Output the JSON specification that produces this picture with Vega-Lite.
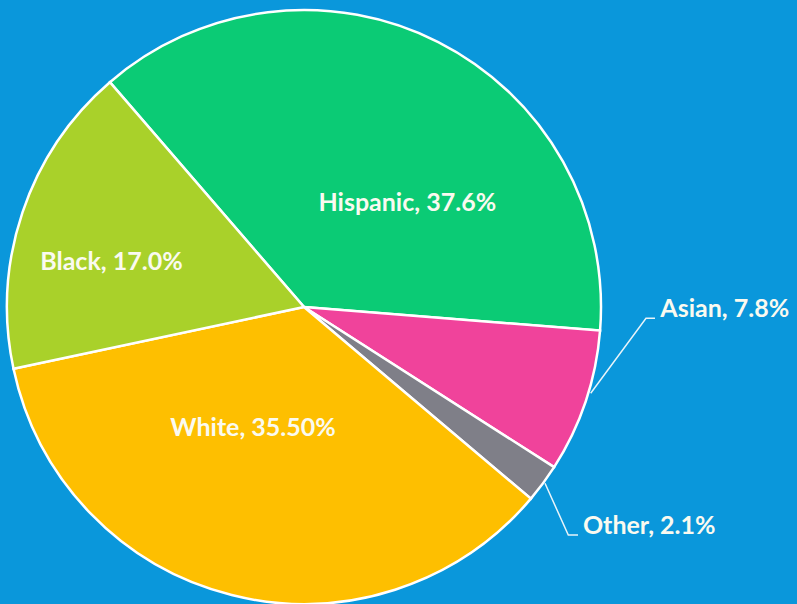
{
  "$schema": "https://vega.github.io/schema/vega-lite/v6.json",
  "width": 608,
  "height": 594,
  "autosize": {"type": "none"},
  "padding": {"left": 0, "top": 10, "right": 189, "bottom": 0},
  "background": "#0A97DB",
  "config": {"view": {"stroke": null}},
  "layer": [
    {
      "data": {"values": [
        {"category": "Hispanic", "value": 37.6, "label": "Hispanic, 37.6%", "order": 1},
        {"category": "Asian", "value": 7.8, "label": "Asian, 7.8%", "order": 2},
        {"category": "Other", "value": 2.1, "label": "Other, 2.1%", "order": 3},
        {"category": "White", "value": 35.5, "label": "White, 35.50%", "order": 4},
        {"category": "Black", "value": 17.0, "label": "Black, 17.0%", "order": 5}
      ]},
      "encoding": {
        "theta": {"field": "value", "type": "quantitative", "stack": true, "scale": {"range": [5.571, 11.854]}},
        "order": {"field": "order", "type": "quantitative", "sort": "ascending"}
      },
      "layer": [
        {
          "mark": {"type": "arc", "outerRadius": 297, "stroke": "white", "strokeWidth": 2.5},
          "encoding": {
            "color": {"field": "category", "type": "nominal", "legend": null,
              "scale": {"domain": ["Hispanic", "Asian", "Other", "White", "Black"],
                        "range": ["#0BCB75", "#F0439B", "#7F7F88", "#FEBF00", "#A9D12A"]}}
          }
        },
        {
          "mark": {"type": "text", "radius": 140, "dx": 40, "dy": 21, "font": "Lato", "fontWeight": "bold", "fontSize": 25, "fill": "#FAFAF0", "align": "center", "baseline": "middle"},
          "encoding": {"text": {"condition": {"test": "datum.category === 'Hispanic'", "field": "label"}, "value": ""}}
        },
        {
          "mark": {"type": "text", "radius": 190, "dx": -12.5, "dy": 15.6, "font": "Lato", "fontWeight": "bold", "fontSize": 25, "fill": "#FAFAF0", "align": "center", "baseline": "middle"},
          "encoding": {"text": {"condition": {"test": "datum.category === 'Black'", "field": "label"}, "value": ""}}
        },
        {
          "mark": {"type": "text", "radius": 125, "dx": -20.5, "dy": 0, "font": "Lato", "fontWeight": "bold", "fontSize": 25, "fill": "#FAFAF0", "align": "center", "baseline": "middle"},
          "encoding": {"text": {"condition": {"test": "datum.category === 'White'", "field": "label"}, "value": ""}}
        },
        {
          "mark": {"type": "text", "radius": 300, "dx": 72, "dy": -94, "font": "Lato", "fontWeight": "bold", "fontSize": 25, "fill": "#FAFAF0", "align": "left", "baseline": "middle"},
          "encoding": {"text": {"condition": {"test": "datum.category === 'Asian'", "field": "label"}, "value": ""}}
        },
        {
          "mark": {"type": "text", "radius": 300, "dx": 37.5, "dy": 41, "font": "Lato", "fontWeight": "bold", "fontSize": 25, "fill": "#FAFAF0", "align": "left", "baseline": "middle"},
          "encoding": {"text": {"condition": {"test": "datum.category === 'Other'", "field": "label"}, "value": ""}}
        }
      ]
    },
    {
      "data": {"values": [
        {"group": "Asian", "step": 1, "x": 590.7, "y": 383.3},
        {"group": "Asian", "step": 2, "x": 646, "y": 308.3},
        {"group": "Asian", "step": 3, "x": 655, "y": 308.3},
        {"group": "Other", "step": 1, "x": 545, "y": 473.3},
        {"group": "Other", "step": 2, "x": 568.3, "y": 525},
        {"group": "Other", "step": 3, "x": 578, "y": 525}
      ]},
      "mark": {"type": "line", "stroke": "#E8F4FA", "strokeWidth": 1.5},
      "encoding": {
        "x": {"field": "x", "type": "quantitative", "scale": {"domain": [0, 608]}, "axis": null},
        "y": {"field": "y", "type": "quantitative", "scale": {"domain": [0, 594], "reverse": true}, "axis": null},
        "detail": {"field": "group", "type": "nominal"},
        "order": {"field": "step", "type": "quantitative"}
      }
    }
  ]
}
